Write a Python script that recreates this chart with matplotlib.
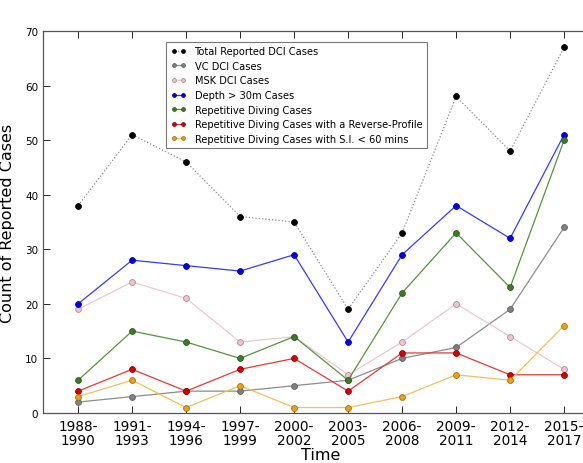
import matplotlib
matplotlib.use("Agg")
import matplotlib.pyplot as plt

# three-year reporting periods
periods = ["1988-\n1990", "1991-\n1993", "1994-\n1996", "1997-\n1999", "2000-\n2002",
           "2003-\n2005", "2006-\n2008", "2009-\n2011", "2012-\n2014", "2015-\n2017"]

total_dci = [38, 51, 46, 36, 35, 19, 33, 58, 48, 67]
vc_dci = [2, 3, 4, 4, 5, 6, 10, 12, 19, 34]
msk_dci = [19, 24, 21, 13, 14, 7, 13, 20, 14, 8]
depth_30m = [20, 28, 27, 26, 29, 13, 29, 38, 32, 51]
repetitive = [6, 15, 13, 10, 14, 6, 22, 33, 23, 50]
reverse_profile = [4, 8, 4, 8, 10, 4, 11, 11, 7, 7]
short_si = [3, 6, 1, 5, 1, 1, 3, 7, 6, 16]

series = [
    ("Total Reported DCI Cases", total_dci, "#8a8a8a", "black", "black", ":"),
    ("VC DCI Cases", vc_dci, "#8c8c8c", "#808080", "#606060", "-"),
    ("MSK DCI Cases", msk_dci, "#ecc8d0", "#f0c4cc", "#b08a94", "-"),
    ("Depth > 30m Cases", depth_30m, "#3a3ae8", "#0000e0", "#0000a0", "-"),
    ("Repetitive Diving Cases", repetitive, "#5a9040", "#3f7a2a", "#2a5a1a", "-"),
    ("Repetitive Diving Cases with a Reverse-Profile", reverse_profile, "#e03a3a", "#d40000", "#900000", "-"),
    ("Repetitive Diving Cases with S.I. < 60 mins", short_si, "#eec060", "#e8a020", "#a07010", "-"),
]

fig = plt.figure(figsize=(5.83, 4.64), dpi=100)
ax = fig.add_axes([0.0738, 0.1078, 0.954, 0.8233])

x = list(range(len(periods)))
for label, vals, lc, mfc, mec, ls in series:
    ax.plot(x, vals, linestyle=ls, color=lc, linewidth=0.9, marker="o", markersize=4.2,
            markerfacecolor=mfc, markeredgecolor=mec, markeredgewidth=0.6, label=label)

ax.set_xlim(-0.65, 9.65)
ax.set_ylim(0, 70)
ax.set_xticks(x)
ax.set_xticklabels(periods, fontsize=9.8, linespacing=1.0)
ax.set_yticks(range(0, 71, 10))
ax.tick_params(axis="y", labelsize=7.5, direction="in", length=5, right=True, width=0.6)
ax.tick_params(axis="x", direction="in", length=5, top=True, width=0.6, pad=4)
for sp in ax.spines.values():
    sp.set_color("#555555")
    sp.set_linewidth(0.9)

ax.set_xlabel("Time", fontsize=11.5, labelpad=0)
ax.set_ylabel("Count of Reported Cases", fontsize=11.5, labelpad=7)

leg = ax.legend(loc="upper left", bbox_to_anchor=(0.213, 0.985), fontsize=7.1,
                frameon=True, fancybox=False, handlelength=1.5, handletextpad=0.9,
                labelspacing=0.47, borderpad=0.45, numpoints=2, markerscale=0.65)
leg.get_frame().set_edgecolor("#555555")
leg.get_frame().set_linewidth(0.8)

fig.savefig("out.png", dpi=100)
